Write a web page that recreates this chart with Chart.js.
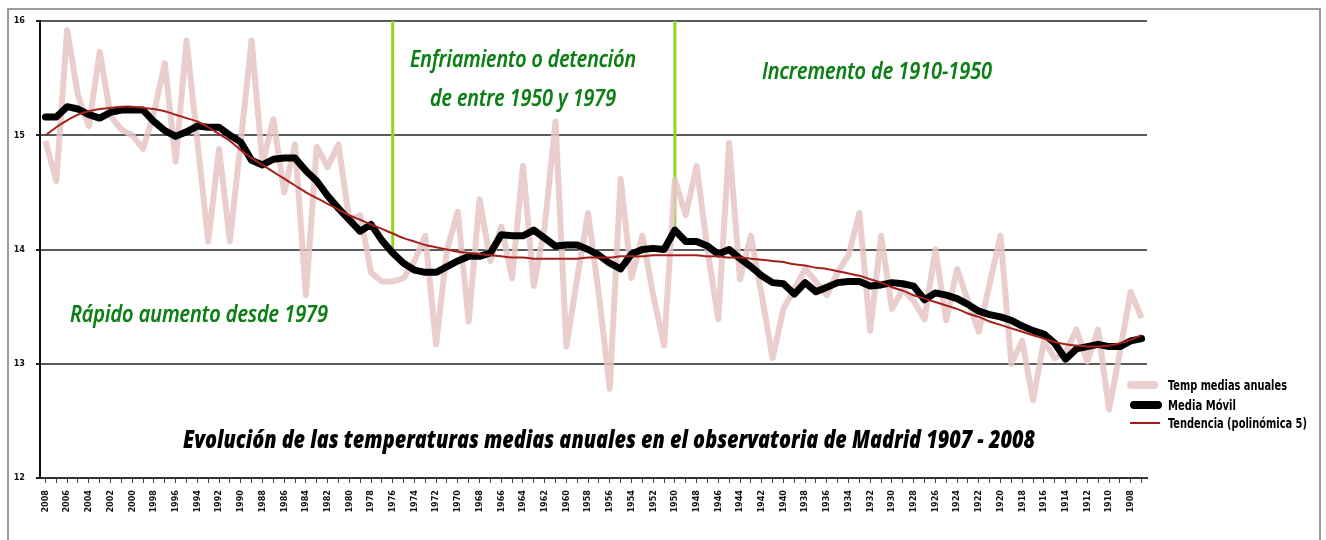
<!DOCTYPE html>
<html>
<head>
<meta charset="utf-8">
<script src="https://cdn.jsdelivr.net/npm/chart.js@4.4.1/dist/chart.umd.min.js"></script>
<style>
  html, body { margin:0; padding:0; background:#fff; }
  #wrap { position:relative; width:1326px; height:540px; overflow:hidden; background:#fff; }
  #frame { position:absolute; left:7px; top:8px; width:1310px; height:540px; border:2px solid #9a9a9a; border-bottom:none; }
  #c { position:absolute; left:0; top:0; }
  .fit { position:absolute; white-space:nowrap; transform-origin:0 50%; line-height:30px; }
  .green { color:#137a1c; font-family:"Open Sans", sans-serif; font-style:italic; font-weight:600; font-size:24px; text-shadow:0 0 1px #34b434; }
  .title { color:#000; font-family:"Open Sans", sans-serif; font-style:italic; font-weight:800; font-size:25px; }
  .leg { position:absolute; font-family:"Liberation Sans Narrow","DejaVu Sans Condensed",sans-serif; font-weight:bold; font-size:14px; color:#000; white-space:nowrap; transform-origin:0 50%; line-height:16px; }
  .sw { position:absolute; }
</style>
</head>
<body>
<div id="wrap">
  <div id="frame"></div>
  <canvas id="c" width="1326" height="540"></canvas>
  <div class="fit green" data-w="226" style="left:410px; top:43px;">Enfriamiento o detención</div>
  <div class="fit green" data-w="186" style="left:430px; top:82px;">de entre 1950 y 1979</div>
  <div class="fit green" data-w="230" style="left:762px; top:55px;">Incremento de 1910-1950</div>
  <div class="fit green" data-w="258" style="left:70px; top:298px;">Rápido aumento desde 1979</div>
  <div class="fit title" data-w="852" style="left:183px; top:423px;">Evolución de las temperaturas medias anuales en el observatoria de Madrid 1907 - 2008</div>

  <div class="sw" style="left:1127px; top:381px; width:31px; height:8px; background:#ead0d0; border-radius:4px;"></div>
  <div class="leg fit" data-w="119" style="left:1168px; top:377px;">Temp medias anuales</div>
  <div class="sw" style="left:1130px; top:401px; width:32px; height:8px; background:#000; border-radius:4px;"></div>
  <div class="leg fit" data-w="68" style="left:1168px; top:397px;">Media Móvil</div>
  <div class="sw" style="left:1130px; top:422px; width:30px; height:2px; background:#9b1c18;"></div>
  <div class="leg fit" data-w="139" style="left:1168px; top:415px;">Tendencia (polinómica 5)</div>
</div>
<script>
// ---- DATA ----
const years = ['2008','2007','2006','2005','2004','2003','2002','2001','2000','1999',
  '1998','1997','1996','1995','1994','1993','1992','1991','1990','1989',
  '1988','1987','1986','1985','1984','1983','1982','1981','1980','1979',
  '1978','1977','1976','1975','1974','1973','1972','1971','1970','1969',
  '1968','1967','1966','1965','1964','1963','1962','1961','1960','1959',
  '1958','1957','1956','1955','1954','1953','1952','1951','1950','1949',
  '1948','1947','1946','1945','1944','1943','1942','1941','1940','1939',
  '1938','1937','1936','1935','1934','1933','1932','1931','1930','1929',
  '1928','1927','1926','1925','1924','1923','1922','1921','1920','1919',
  '1918','1917','1916','1915','1914','1913','1912','1911','1910','1909',
  '1908','1907'];

const annualTemps = [14.95,14.6,15.92,15.35,15.08,15.73,15.17,15.05,15.0,14.88,
  15.2,15.63,14.77,15.83,14.95,14.07,14.88,14.07,14.95,15.83,
  14.75,15.14,14.5,14.92,13.6,14.9,14.72,14.92,14.25,14.3,
  13.8,13.72,13.72,13.75,13.9,14.12,13.17,14.0,14.33,13.37,
  14.44,13.9,14.2,13.75,14.73,13.68,14.2,15.12,13.15,13.75,
  14.32,13.6,12.78,14.62,13.75,14.12,13.6,13.16,14.61,14.3,
  14.73,14.0,13.39,14.93,13.74,14.12,13.6,13.05,13.48,13.65,
  13.83,13.72,13.6,13.8,13.95,14.32,13.29,14.12,13.48,13.65,
  13.55,13.39,14.0,13.38,13.83,13.55,13.28,13.7,14.12,13.0,
  13.2,12.68,13.2,13.05,13.1,13.3,13.02,13.3,12.6,13.1,
  13.63,13.4];

const movingAvg = [15.16,15.16,15.25,15.23,15.18,15.15,15.2,15.22,15.22,15.22,
  15.12,15.04,14.99,15.03,15.08,15.07,15.07,15.0,14.94,14.78,
  14.74,14.79,14.8,14.8,14.69,14.6,14.47,14.36,14.26,14.16,
  14.22,14.08,13.97,13.88,13.82,13.8,13.8,13.85,13.9,13.94,
  13.94,13.97,14.13,14.12,14.12,14.17,14.1,14.03,14.04,14.04,
  14.0,13.95,13.88,13.83,13.96,14.0,14.01,14.0,14.17,14.07,
  14.07,14.03,13.96,14.0,13.92,13.85,13.77,13.71,13.7,13.61,
  13.71,13.63,13.67,13.71,13.72,13.72,13.68,13.69,13.71,13.7,
  13.68,13.56,13.62,13.6,13.57,13.52,13.46,13.43,13.41,13.38,
  13.33,13.29,13.26,13.18,13.04,13.13,13.15,13.17,13.15,13.15,
  13.2,13.22];

const trendPoly5 = [15.0,15.07,15.13,15.18,15.21,15.23,15.24,15.25,15.25,15.24,
  15.23,15.21,15.18,15.15,15.12,15.07,15.01,14.95,14.87,14.8,
  14.74,14.68,14.62,14.56,14.5,14.45,14.4,14.35,14.3,14.26,
  14.22,14.18,14.14,14.1,14.07,14.04,14.02,14.0,13.98,13.97,
  13.96,13.95,13.94,13.93,13.93,13.92,13.92,13.92,13.92,13.92,
  13.93,13.93,13.93,13.94,13.94,13.94,13.95,13.95,13.95,13.95,
  13.95,13.94,13.94,13.93,13.93,13.92,13.91,13.9,13.89,13.87,
  13.86,13.84,13.83,13.81,13.79,13.77,13.74,13.71,13.67,13.64,
  13.6,13.57,13.54,13.51,13.48,13.44,13.41,13.37,13.34,13.31,
  13.28,13.25,13.22,13.19,13.17,13.16,13.15,13.15,13.16,13.18,
  13.21,13.25];

const yTicks = [12, 13, 14, 15, 16];
const periodMarks = ['1976', '1950'];

// ---- PLUGINS ----
const periodLines = {
  id: 'periodLines',
  beforeDatasetsDraw(chart) {
    const {ctx, chartArea, scales} = chart;
    ctx.save();
    ctx.strokeStyle = '#8fd41e';
    ctx.lineWidth = 3;
    periodMarks.forEach(yr => {
      const i = years.indexOf(yr);
      const x = scales.x.getPixelForValue(i);
      const yb = scales.y.getPixelForValue(movingAvg[i]);
      ctx.beginPath();
      ctx.moveTo(x, chartArea.top);
      ctx.lineTo(x, yb);
      ctx.stroke();
    });
    ctx.restore();
  }
};

const tickFont = { family: '"Liberation Sans Narrow","DejaVu Sans Condensed",sans-serif', weight: 'bold' };

new Chart(document.getElementById('c'), {
  type: 'line',
  data: {
    labels: years,
    datasets: [
      { label: 'Tendencia (polinómica 5)', data: trendPoly5, borderColor: '#a3221c', borderWidth: 2, pointRadius: 0, tension: 0.3, fill: false },
      { label: 'Media Móvil', data: movingAvg, borderColor: '#000', borderWidth: 7, pointRadius: 0, tension: 0, fill: false, borderJoinStyle: 'round', borderCapStyle: 'round' },
      { label: 'Temp medias anuales', data: annualTemps, borderColor: 'rgba(230,198,198,0.85)', borderWidth: 6, pointRadius: 0, tension: 0, fill: false, borderJoinStyle: 'round' }
    ]
  },
  options: {
    responsive: false,
    animation: false,
    devicePixelRatio: 1,
    layout: { padding: { left: 0, top: 21, right: 179, bottom: 0 } },
    plugins: { legend: { display: false }, tooltip: { enabled: false } },
    scales: {
      x: {
        type: 'category',
        offset: true,
        afterFit(scale) { scale.height = 62; },
        border: { display: true, color: '#333', width: 2 },
        grid: { display: true, drawOnChartArea: false, drawTicks: true, tickLength: 5, tickColor: '#444', offset: false },
        ticks: {
          autoSkip: false, maxRotation: 90, minRotation: 90, padding: 7,
          color: '#111', font: Object.assign({ size: 9 }, tickFont),
          callback(v, i) { return i % 2 === 0 ? years[i] : ''; }
        }
      },
      y: {
        min: 12, max: 16,
        afterFit(scale) { scale.width = 40; },
        afterBuildTicks(scale) { scale.ticks = yTicks.map(v => ({ value: v })); },
        border: { display: true, color: '#111', width: 2 },
        grid: { color: '#5a5a5a', lineWidth: 2, tickLength: 4, tickColor: '#222' },
        ticks: { padding: 11, color: '#111', font: Object.assign({ size: 9 }, tickFont) }
      }
    }
  },
  plugins: [periodLines]
});

// fit annotation text widths
document.querySelectorAll('.fit').forEach(el => {
  const target = parseFloat(el.dataset.w);
  const w = el.getBoundingClientRect().width;
  if (w > 0) el.style.transform = 'scaleX(' + (target / w).toFixed(4) + ')';
});
</script>
</body>
</html>
